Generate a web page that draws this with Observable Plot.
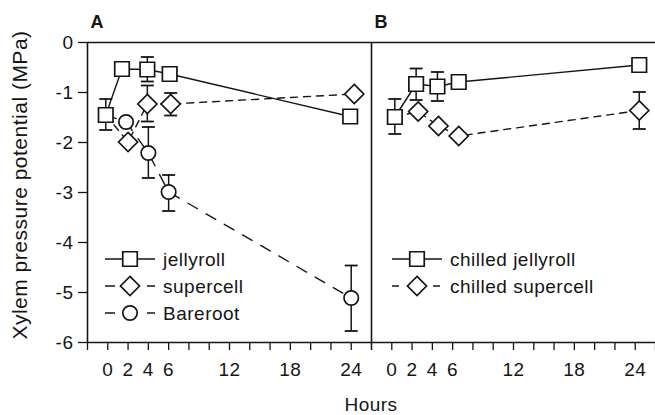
<!DOCTYPE html>
<html>
<head>
<meta charset="utf-8">
<script src="https://cdn.jsdelivr.net/npm/d3@7"></script>
<script src="https://cdn.jsdelivr.net/npm/@observablehq/plot@0.6"></script>
<style>
  html, body { margin: 0; padding: 0; background: #fff; overflow: hidden; }
  #chart svg { display: block; }
</style>
</head>
<body>
<div id="chart"></div>
<script>
// ---------- axes ----------
const panels = ["A", "B"];
const hourDomain = [-2, 26];
const hourTicks = [-2, 0, 2, 4, 6, 8, 10, 12, 14, 16, 18, 20, 22, 24, 26];
const hourLabels = [0, 2, 4, 6, 12, 18, 24];
const mpaDomain = [-6, 0];
const mpaTicks = [0, -1, -2, -3, -4, -5, -6];
const mpaLabels = ["0", "-1", "-2", "-3", "-4", "-5", "-6"];
const xTitle = "Hours";
const yTitle = "Xylem pressure potential (MPa)";

// ---------- panel A ----------
const jellyrollHours = [-0.2, 1.4, 3.9, 6.1, 23.9];
const jellyrollMPa   = [-1.45, -0.53, -0.54, -0.63, -1.48];
const jellyrollHi    = [-1.13, null, -0.29, null, null];
const jellyrollLo    = [-1.75, null, -0.78, null, null];

const supercellHours = [2.0, 3.9, 6.2, 24.3];
const supercellMPa   = [-1.99, -1.23, -1.23, -1.03];
const supercellHi    = [null, -0.86, -1.01, null];
const supercellLo    = [null, -1.58, -1.46, null];

const bareHours = [1.8, 4.0, 6.0, 24.0];
const bareMPa   = [-1.59, -2.21, -2.99, -5.11];
const bareHi    = [null, -1.69, -2.65, -4.46];
const bareLo    = [null, -2.71, -3.37, -5.77];

// ---------- panel B ----------
const chJellyHours = [0.3, 2.4, 4.5, 6.6, 24.4];
const chJellyMPa   = [-1.49, -0.83, -0.88, -0.79, -0.45];
const chJellyHi    = [-1.13, -0.52, -0.59, null, null];
const chJellyLo    = [-1.83, -1.15, -1.17, null, null];

const chSuperHours = [2.6, 4.6, 6.6, 24.4];
const chSuperMPa   = [-1.38, -1.67, -1.87, -1.36];
const chSuperHi    = [null, null, null, -0.99];
const chSuperLo    = [null, null, null, -1.73];

// ---------- series table ----------
const ink = "#151515";
const symbolR = {square: 8.2, diamond2: 8.6, circle: 7.2};
const series = [
  {panel: "A", name: "jellyroll", shape: "square", dash: null, hours: jellyrollHours, mpa: jellyrollMPa, hi: jellyrollHi, lo: jellyrollLo},
  {panel: "A", name: "supercell", shape: "diamond2", dash: "7,6", start: "jellyroll", hours: supercellHours, mpa: supercellMPa, hi: supercellHi, lo: supercellLo},
  {panel: "A", name: "Bareroot", shape: "circle", dash: "11,10", start: "jellyroll", hours: bareHours, mpa: bareMPa, hi: bareHi, lo: bareLo},
  {panel: "B", name: "chilled jellyroll", shape: "square", dash: null, hours: chJellyHours, mpa: chJellyMPa, hi: chJellyHi, lo: chJellyLo},
  {panel: "B", name: "chilled supercell", shape: "diamond2", dash: "7,6", start: "chilled jellyroll", hours: chSuperHours, mpa: chSuperMPa, hi: chSuperHi, lo: chSuperLo}
];
const pointsOf = s => s.hours.map((h, i) => ({panel: s.panel, name: s.name, hour: h, mpa: s.mpa[i], hi: s.hi[i], lo: s.lo[i]}));
const byName = Object.fromEntries(series.map(s => [s.name, s]));
const linePointsOf = s => {
  const pts = pointsOf(s);
  if (s.start) {
    const first = pointsOf(byName[s.start])[0];
    pts.unshift({...first, name: s.name});
  }
  return pts;
};
const errRows = series.flatMap(pointsOf).filter(d => d.hi != null);

const capSymbol = {draw(ctx) { ctx.moveTo(-6.5, 0); ctx.lineTo(6.5, 0); }};

const width = 655, height = 415;
const marginLeft = 87, marginTop = 42, marginBottom = 73, marginRight = 0;

const marks = [
  Plot.ruleY([mpaDomain[1]], {stroke: ink, strokeWidth: 1.6}),
  Plot.ruleY([mpaDomain[0]], {stroke: ink, strokeWidth: 1.6}),
  Plot.ruleX([hourDomain[0]], {stroke: ink, strokeWidth: 1.6}),
  ...series.map(s => Plot.line(linePointsOf(s), {
    x: "hour", y: "mpa", fx: "panel", stroke: ink, strokeWidth: 1.4,
    strokeDasharray: s.dash ?? undefined
  })),
  Plot.ruleX(errRows, {x: "hour", y1: "lo", y2: "hi", fx: "panel", stroke: ink, strokeWidth: 1.5}),
  Plot.dot(errRows, {x: "hour", y: "hi", fx: "panel", symbol: capSymbol, fill: "none", stroke: ink, strokeWidth: 1.8}),
  Plot.dot(errRows, {x: "hour", y: "lo", fx: "panel", symbol: capSymbol, fill: "none", stroke: ink, strokeWidth: 1.8}),
  ...series.slice().reverse().map(s => Plot.dot(pointsOf(s), {
    x: "hour", y: "mpa", fx: "panel", symbol: s.shape, r: symbolR[s.shape],
    fill: "white", stroke: ink, strokeWidth: 1.7
  })),
  Plot.text(panels, {
    fx: d => d, text: d => d, frameAnchor: "top-left", textAnchor: "start", lineAnchor: "bottom",
    dx: 3, dy: -15, fontWeight: "bold", fontSize: 18, fill: ink
  })
];

const chart = Plot.plot({
  width, height, marginLeft, marginTop, marginBottom, marginRight,
  style: {fontSize: "19px", fontFamily: "'Liberation Sans', Arial, Helvetica, sans-serif", color: ink, letterSpacing: "0.5px", background: "white"},
  fx: {domain: panels, padding: 0, axis: null, label: null},
  x: {domain: hourDomain, ticks: hourTicks, tickFormat: d => hourLabels.includes(d) ? String(d) : "", tickSize: 8, tickPadding: 12, label: null},
  y: {domain: mpaDomain, ticks: mpaTicks, tickFormat: d => mpaLabels[mpaTicks.indexOf(d)], tickSize: 9, tickPadding: 5, label: null},
  marks
});

// ---------- titles and legends ----------
const svg = d3.select(chart);
svg.selectAll("g[aria-label$='tick'] path, g[aria-label$='axis'] path").attr("stroke-width", 1.3);
const font = "'Liberation Sans', Arial, Helvetica, sans-serif";
svg.append("text")
  .attr("transform", `translate(27,${marginTop + (height - marginTop - marginBottom) / 2 - 7}) rotate(-90)`)
  .attr("text-anchor", "middle").attr("font-size", 21).attr("font-family", font)
  .attr("letter-spacing", "0.5px").attr("fill", ink).text(yTitle);
svg.append("text")
  .attr("x", marginLeft + (width - marginLeft - marginRight) / 2).attr("y", 411)
  .attr("text-anchor", "middle").attr("font-size", 19).attr("font-family", font)
  .attr("letter-spacing", "0.5px").attr("fill", ink).text(xTitle);

const facetW = (width - marginLeft - marginRight) / panels.length;
const legendOffset = {A: 18, B: 21};
const legendRowY = [259, 286, 313];
const symType = {square: d3.symbolSquare, diamond2: d3.symbolDiamond2, circle: d3.symbolCircle};
const legendDash = {A: "10,32,10", B: "7,34,7"};
panels.forEach((p, pi) => {
  const x0 = marginLeft + pi * facetW + legendOffset[p];
  series.filter(s => s.panel === p).forEach((s, i) => {
    const y = legendRowY[i];
    const g = svg.append("g");
    g.append("line").attr("x1", x0).attr("x2", x0 + 50).attr("y1", y).attr("y2", y)
      .attr("stroke", ink).attr("stroke-width", 1.4)
      .attr("stroke-dasharray", s.dash ? legendDash[p] : null);
    g.append("path").attr("transform", `translate(${x0 + 25},${y})`)
      .attr("d", d3.symbol().type(symType[s.shape]).size(Math.PI * symbolR[s.shape] ** 2)())
      .attr("fill", "white").attr("stroke", ink).attr("stroke-width", 1.7);
    g.append("text").attr("x", x0 + 58).attr("y", y).attr("dy", "0.35em")
      .attr("text-anchor", "start")
      .attr("font-size", 19).attr("font-family", font).attr("letter-spacing", "0.5px")
      .attr("fill", ink).text(s.name);
  });
});

document.getElementById("chart").appendChild(chart);
</script>
</body>
</html>
